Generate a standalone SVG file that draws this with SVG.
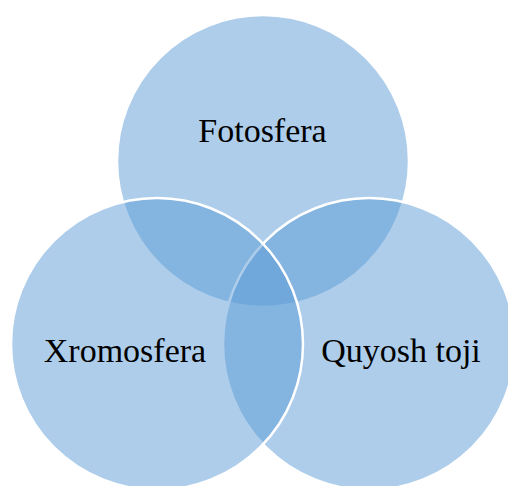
<svg xmlns="http://www.w3.org/2000/svg" width="508" height="486" viewBox="0 0 508 486">
<style>
.c{fill:#5B9BD5;fill-opacity:0.5;stroke:#ffffff;stroke-width:2.5}
.t{font-size:34px;fill:#000000;text-anchor:middle}
</style>
<rect width="508" height="486" fill="#ffffff"/>
<g id="fotosfera">
<circle class="c" cx="263" cy="161" r="146"/>
<text class="t" font-family="'Liberation Serif', 'DejaVu Serif', serif" x="262.5" y="141.5">Fotosfera</text>
</g>
<g id="quyosh-toji">
<circle class="c" cx="369" cy="344" r="146"/>
</g>
<g id="xromosfera">
<circle class="c" cx="157" cy="344" r="146"/>
<text class="t" font-family="'Liberation Serif', 'DejaVu Serif', serif" x="125" y="361.5">Xromosfera</text>
</g>
<g id="labels">
<text class="t" font-family="'Liberation Serif', 'DejaVu Serif', serif" x="401" y="361.5">Quyosh toji</text>
</g>
</svg>
